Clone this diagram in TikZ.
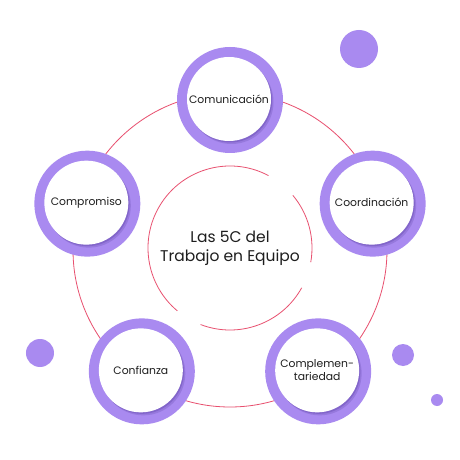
\documentclass[tikz,border=0pt]{standalone}
\usepackage{fontspec}
\setmainfont{Poppins}
\usepackage{tikz}
\usetikzlibrary{
  shadows}

\definecolor{ringpurple}{HTML}{A98AF0}
\definecolor{shadepurple}{HTML}{5E44A8}
\definecolor{linered}{HTML}{E8506F}
\definecolor{textgray}{HTML}{1E1E1E}

\tikzset{
  redline/.style={draw=linered, line width=0.8pt},
  ringdisc/.style={fill=ringpurple},
  bubble/.style={circle, fill=white, minimum size=84pt, inner sep=0pt,
    align=center, text=textgray, font=\fontsize{10.8}{13}\selectfont,
    drop shadow={shadow xshift=2.5pt, shadow yshift=-3pt, fill=shadepurple, opacity=.25},
    drop shadow={shadow xshift=1.2pt, shadow yshift=-1.5pt, fill=shadepurple, opacity=.35}},
  dot/.style={fill=ringpurple}}

\begin{document}
\begin{tikzpicture}[x=1pt,y=1pt]
\useasboundingbox[fill=white] (-230,-210) rectangle (230,250);
\draw[redline] (0,0) circle (157);
\draw[redline] (0,2) ++(62:82) arc[start angle=62, end angle=230, radius=82];
\draw[redline] (0,2) ++(249:82) arc[start angle=249, end angle=331, radius=82];
\draw[redline] (0,2) ++(350:82) arc[start angle=350, end angle=400, radius=82];
\node[align=center, text=textgray, font=\fontsize{15.5}{19}\selectfont] (title) at (0,2) {Las 5C del\\Trabajo en Equipo};
\foreach \ang/\nm/\txt in {90/comunicacion/Comunicación, 18/coordinacion/Coordinación,
    -54/complementariedad/{Complemen-\\tariedad}, -126/confianza/Confianza, 162/compromiso/Compromiso}{
  \fill[ringdisc] (\ang:150) circle (53);
  \node[bubble] (\nm) at ([shift={(-1,1)}]\ang:150) {\txt};
}
\fill[dot] (129,201) circle (19);
\fill[dot] (-190,-103) circle (14);
\fill[dot] (173,-105) circle (11);
\fill[dot] (207,-150) circle (6);
\end{tikzpicture}
\end{document}
